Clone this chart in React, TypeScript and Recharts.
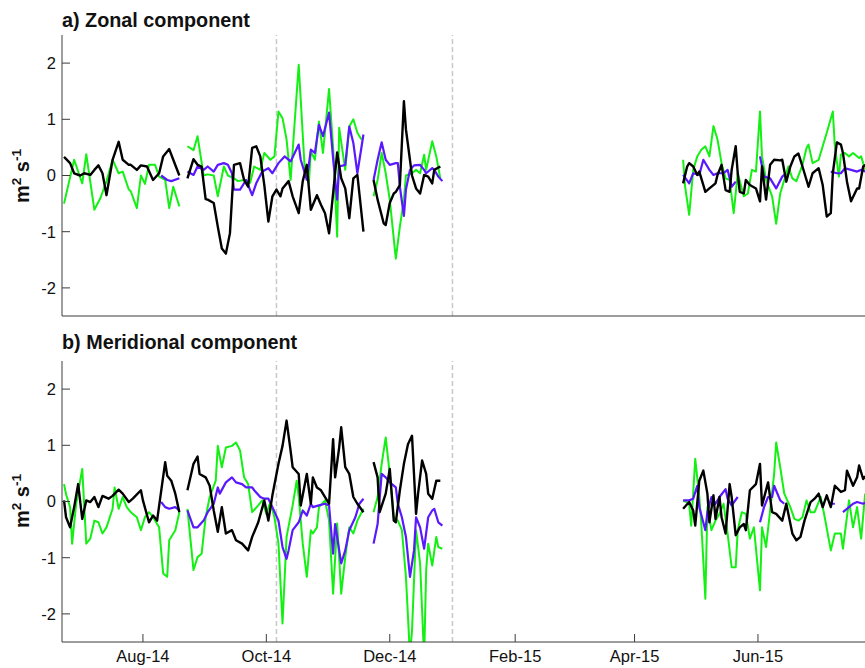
import { LineChart, Line, XAxis, YAxis, ReferenceLine } from "recharts";

type Seg = [number, number][];

const FONT = '"Liberation Sans", Arial, Helvetica, sans-serif';
const AXIS = "#3c3c3c";

// x is counted in days from 1 Aug 2014
const tickDays = [0, 61, 122, 184, 243, 304];
const tickLabels = ["Aug-14", "Oct-14", "Dec-14", "Feb-15", "Apr-15", "Jun-15"];
const dayRange: [number, number] = [-40, 357.4];
const valueRange: [number, number] = [-2.5, 2.5];
const valueTicks = [-2, -1, 0, 1, 2];
const markerDays = [66, 153];

// zonal component, one list of segments per record (gaps between segments)
const zonalGreen: Seg[] = [
  [[-39, -0.5], [-34, 0.28], [-30, -0.14], [-28, 0.38], [-24, -0.61], [-21, -0.4], [-18, -0.1], [-15, 0.28], [-12, 0.04], [-10, 0.07], [-7, -0.25], [-6, -0.28], [-3, -0.58], [-1, 0], [1, -0.15], [3, 0.19], [6, 0.19], [8, -0.02], [11, -0.08], [13, -0.58], [15, -0.2], [18, -0.55]],
  [[22, 0.52], [25, 0.45], [27, 0.7], [30, 0], [32, 0.02], [35, 0], [37, -0.37], [40, 0.16], [42, 0], [45, -0.05], [47, -0.1], [50, -0.08], [53, -0.13], [55, 0.16], [58, 0.1], [60, 0.4], [63, 0.28], [65, 0.34], [67, 1.14], [69, 1.02], [71, 0.64], [73, -0.08], [77, 1.97], [80, 0.1], [82, -0.14], [83, 0.43], [85, 0.28], [87, 0.96], [89, 0.4], [92, 1.54], [94, 0.5], [96, -1.09], [97, 0.85], [100, 0.1], [102, 0.87], [104, 1.0], [106, 0.76], [108, 0.64]],
  [[114, -0.37], [116, -0.08], [118, 0.4], [120, 0.04], [122, -0.43], [125, -1.48], [127, -0.91], [129, -0.43], [130, 0], [133, 0.04], [135, 0.1], [137, 0.04], [139, 0.37], [140, 0.1], [143, 0.61], [145, 0.34], [147, -0.05]],
  [[267, 0.28], [268, -0.2], [270, -0.7], [272, 0.1], [274, 0.34], [276, 0.46], [278, 0.52], [280, 0.34], [282, 0.88], [284, 0.64], [286, 0.22], [288, -0.05], [290, -0.08], [292, -0.67], [294, 0.04], [297, -0.37], [299, -0.32], [301, 0.1], [303, 0.07], [305, 1.14], [306, 0.34], [308, -0.08], [311, -0.37], [313, -0.86], [315, -0.32], [317, -0.08], [319, 0.16], [321, -0.05], [323, -0.1], [326, 0.19], [328, 0.49], [329, 0.55], [331, 0.22], [334, 0.28], [336, 0.52], [338, 0.76], [341, 1.14], [342, 0.52], [344, -0.02], [345, 0.37], [347, 0.4], [349, 0.34], [351, 0.4], [354, 0.31], [355, 0.34], [357, 0.1]],
];

const zonalBlue: Seg[] = [
  [[9, 0], [12, -0.08], [14, -0.1], [18, -0.05]],
  [[22, 0.07], [25, 0.01], [27, 0.16], [30, 0.1], [32, 0.16], [35, 0.07], [37, 0.19], [40, 0.22], [42, 0.19], [44, 0.04], [45, -0.25], [48, -0.25], [51, -0.08], [54, -0.35], [56, -0.14], [59, 0.07], [62, 0.13], [64, 0.04], [67, 0.22], [70, 0.34], [73, 0.25], [77, 0.55], [78, 0.28], [81, -0.08], [83, 0.46], [85, 0.4], [87, 0.9], [89, 0.7], [92, 1.12], [94, 0.31], [96, -0.43], [97, 0.16], [100, 0.19], [102, 0.87], [104, 0.58], [106, 0.04], [109, 0.73]],
  [[114, -0.08], [116, 0.28], [118, 0.59], [120, 0.28], [122, 0.19], [125, 0.22], [126, 0.22], [127, -0.2], [129, -0.72], [130, -0.25], [132, 0.1], [134, 0.18], [137, 0.19], [139, 0.1], [140, 0.04], [143, 0.13], [144, 0.1], [146, -0.02], [148, -0.1]],
  [[267, 0.01], [270, -0.14], [272, 0.04], [275, 0.01], [277, 0.28], [280, 0.1], [282, 0.01], [284, 0.04], [287, 0.04], [289, 0.1], [291, -0.2], [293, -0.11]],
  [[305, 0.34], [307, -0.02], [310, -0.05], [313, -0.23], [316, -0.02], [317, 0.01]],
  [[340, 0.07], [343, 0.04], [345, 0.04], [347, 0.13], [350, 0.1], [353, 0.07], [355, 0.1], [357, 0.07]],
];

const zonalBlack: Seg[] = [
  [[-39, 0.33], [-36, 0.22], [-34, 0.04], [-31, 0], [-29, 0.04], [-26, 0.01], [-24, 0.1], [-22, 0.18], [-20, 0.04], [-18, -0.35], [-15, 0.28], [-12, 0.6], [-10, 0.28], [-7, 0.19], [-6, 0.19], [-3, 0.1], [-1, 0.18], [2, 0.16], [5, -0.08], [8, 0.04], [10, 0.34], [13, 0.47], [15, 0.28], [18, 0]],
  [[22, -0.05], [25, 0.29], [27, 0.19], [29, 0.16], [31, -0.42], [32, -0.43], [35, -0.49], [37, -0.91], [39, -1.3], [41, -1.39], [43, -1.03], [45, 0.19], [48, 0.22], [50, -0.08], [52, -0.2], [54, 0.49], [56, 0.52], [58, 0.34], [60, -0.17], [62, -0.82], [64, -0.37], [66, -0.25], [68, -0.37], [69, -0.23], [72, -0.1], [74, -0.37], [77, -0.67], [79, -0.1], [81, 0.19], [83, -0.61], [86, -0.35], [88, -0.52], [90, -0.67], [92, -1.03], [94, -0.32], [96, 0.41], [98, -0.05], [100, -0.23], [102, -0.76], [104, -0.05], [106, 0.01], [109, -1.0]],
  [[114, -0.08], [116, -0.43], [119, -0.85], [120, -0.88], [122, -0.49], [124, -0.32], [125, -0.29], [127, -0.17], [129, 1.32], [130, 0.82], [133, 0], [135, -0.23], [137, -0.32], [139, 0.01], [141, -0.02], [143, -0.14], [144, 0.1], [147, 0.16]],
  [[267, -0.14], [269, 0.16], [270, 0.22], [272, 0.16], [274, 0.01], [275, 0.07], [278, -0.29], [280, -0.23], [283, -0.14], [284, 0.01], [286, 0.19], [288, -0.26], [290, -0.29], [291, 0.1], [293, 0.52], [294, 0.04], [295, -0.29], [297, -0.32], [298, -0.08], [300, -0.17], [303, -0.23], [305, -0.46], [306, 0.16], [308, -0.43], [310, 0.19], [312, 0.28], [315, 0.27], [316, 0.28], [318, -0.11], [320, 0.16], [322, 0.34], [324, 0.39], [326, 0.16], [329, -0.2], [331, 0.04], [334, 0.13], [336, -0.17], [338, -0.73], [340, -0.67], [341, 0.04], [343, 0.59], [345, 0.55], [346, 0.4], [348, -0.11], [350, -0.46], [353, -0.23], [354, -0.23], [356, 0.16], [357, 0.19]],
];

// meridional component
const meridGreen: Seg[] = [
  [[-39, 0.31], [-38, 0.13], [-36, -0.1], [-35, -0.75], [-33, -0.04], [-30, 0.58], [-28, -0.75], [-26, -0.66], [-24, -0.34], [-22, -0.37], [-20, -0.57], [-18, -0.46], [-15, -0.13], [-14, 0.25], [-12, -0.13], [-10, 0.08], [-8, -0.1], [-6, -0.19], [-3, -0.28], [-1, -0.51], [1, -0.28], [3, -0.19], [5, -0.28], [8, -0.46], [10, -1.28], [12, -1.34], [13, -0.69], [16, -0.51], [18, -0.19]],
  [[22, -0.13], [25, -1.22], [27, -0.99], [29, -0.93], [31, -0.28], [33, 0.08], [36, 0.37], [37, 0.99], [39, 0.61], [41, 0.96], [44, 0.99], [46, 1.05], [48, 0.91], [50, 0.43], [52, 0.31], [54, -0.19], [57, -0.07], [59, 0.02], [61, -0.22], [63, -0.01], [65, -0.28], [67, -0.75], [69, -2.17], [71, -0.63], [74, -0.07], [76, 0.37], [77, 0.08], [79, -0.75], [81, -1.34], [83, -0.51], [84, -0.57], [86, -0.46], [87, -0.1], [90, 0.02], [92, -0.34], [94, -1.64], [96, -0.39], [98, -1.64], [100, -0.99], [102, -0.46], [104, -0.57], [106, -0.34], [109, -0.13]],
  [[114, -0.19], [116, 0.08], [118, 0.67], [120, 1.14], [122, 0.49], [124, -0.28], [126, -0.34], [128, -0.51], [130, -1.34], [132, -2.75], [133, -2.3], [135, -0.51], [137, -1.1], [139, -2.8], [140, -1.22], [141, -0.75], [143, -1.14], [145, -0.63], [146, -0.81], [148, -0.84]],
  [[267, 0.02], [270, -0.04], [271, -0.43], [273, 0.76], [275, 0.08], [276, -0.4], [278, -1.73], [279, -0.1], [281, -0.51], [283, -0.34], [285, -0.22], [287, -0.04], [289, -0.57], [291, -1.17], [293, -1.17], [294, -0.51], [296, -0.19], [298, -0.22], [300, -0.66], [302, -0.46], [305, -1.58], [306, -0.46], [308, -0.81], [310, -0.16], [312, 0.49], [313, 1.05], [315, 0.61], [317, 0.14], [320, -0.1], [322, -0.31], [324, -0.34], [326, -0.28], [328, 0.02], [330, -0.19], [332, -0.19], [335, 0.08], [337, -0.28], [340, -0.87], [342, -0.57], [345, -0.57], [346, -0.84], [349, 0.02], [351, -0.46], [353, -0.1], [355, -0.66], [357, 0.14]],
];

const meridBlue: Seg[] = [
  [[9, -0.01], [11, -0.1], [13, -0.13], [16, -0.1], [18, -0.16]],
  [[22, -0.16], [25, -0.46], [27, -0.46], [30, -0.34], [32, -0.19], [35, -0.04], [37, 0.25], [38, 0.14], [41, 0.34], [44, 0.43], [46, 0.34], [49, 0.31], [51, 0.25], [54, 0.25], [55, 0.2], [58, 0.08], [60, 0.05], [62, 0.05], [64, -0.1], [67, -0.34], [69, -0.81], [71, -1.02], [72, -0.87], [74, -0.51], [77, -0.37], [79, -0.16], [81, -0.25], [83, -0.04], [84, -0.1], [87, -0.07], [90, -0.04], [92, -0.07], [94, -0.93], [95, -0.4], [98, -1.1], [100, -0.87], [102, -0.51], [105, -0.28], [107, -0.04], [109, 0.05]],
  [[114, -0.75], [116, -0.4], [118, 0.49], [120, 0.43], [122, 0.34], [125, 0.25], [126, -0.04], [128, -0.28], [130, -0.63], [132, -1.34], [134, -0.87], [135, -0.28], [137, -0.46], [139, -0.84], [141, -0.28], [143, -0.16], [144, -0.13], [146, -0.37], [148, -0.43]],
  [[267, 0.02], [270, 0.02], [272, 0.05], [274, 0.28], [275, -0.1], [278, -0.51], [279, -0.19], [281, 0.08], [283, -0.04], [285, 0.08], [288, 0.22], [289, 0.05], [291, -0.07], [294, 0.08]],
  [[305, -0.37], [307, -0.1], [309, 0.08], [311, 0.08], [312, 0.28], [315, 0.02], [317, -0.04]],
  [[340, -0.04], [342, -0.04]],
  [[346, -0.19], [349, -0.1], [351, -0.04], [353, -0.01], [356, -0.04], [357, -0.02]],
];

const meridBlack: Seg[] = [
  [[-39, 0.02], [-38, -0.28], [-36, -0.46], [-34, -0.1], [-32, 0.31], [-30, -0.31], [-28, 0.02], [-26, -0.01], [-24, 0.08], [-22, -0.1], [-20, 0.1], [-17, 0.05], [-15, 0.1], [-12, 0.21], [-10, 0.14], [-7, -0.01], [-5, 0.05], [-1, 0.2], [0, 0.02], [3, -0.37], [5, -0.25], [7, -0.34], [11, 0.7], [12, 0.46], [14, 0.37], [16, 0.14], [18, -0.19]],
  [[22, 0.2], [25, 0.67], [27, 0.8], [28, 0.49], [31, 0.43], [33, 0.28], [35, -0.16], [37, -0.54], [39, -0.1], [41, -0.57], [44, -0.51], [46, -0.69], [49, -0.75], [52, -0.87], [54, -0.63], [57, -0.37], [60, 0.02], [62, -0.34], [64, 0.11], [67, 0.67], [69, 0.99], [71, 1.44], [73, 0.9], [74, 0.61], [77, 0.49], [78, -0.07], [81, 0.49], [83, -0.04], [84, 0.43], [86, 0.25], [88, 0.2], [91, 0.02], [92, -0.04], [94, 1.11], [95, 0.43], [97, 0.96], [98, 1.32], [100, 0.61], [102, 0.49], [104, 0.08], [106, -0.04], [109, -0.19]],
  [[114, 0.7], [116, 0.43], [117, -0.19], [120, 0.14], [122, 0.58], [124, -0.34], [125, -0.37], [127, 0.2], [129, 0.67], [131, 1.02], [133, 1.17], [135, -0.22], [136, 0.14], [138, 0.73], [140, 0.49], [141, 0.14], [143, 0.05], [145, 0.37], [147, 0.37]],
  [[267, -0.13], [270, -0.01], [272, -0.16], [273, -0.43], [275, 0.37], [277, 0.55], [279, 0.14], [280, -0.37], [282, 0.11], [283, -0.31], [285, 0.08], [286, -0.28], [288, -0.57], [290, 0.31], [291, 0.08], [293, -0.6], [295, -0.46], [297, -0.4], [298, -0.51], [300, 0.2], [303, 0.31], [305, 0.67], [306, -0.07], [309, 0.34], [311, -0.19], [313, -0.22], [316, -0.34], [318, -0.04], [321, -0.57], [323, -0.69], [325, -0.63], [327, -0.34], [330, -0.01], [332, 0.05], [334, 0.14], [336, -0.1], [338, 0.11], [340, -0.1], [342, 0.28], [345, 0.17], [347, 0.2], [348, 0.55], [351, 0.28], [353, 0.43], [354, 0.64], [356, 0.4], [357, 0.45]],
];

// flatten segments, with a null point between them so the line breaks
function toPoints(segs: Seg[]) {
  const out: { day: number; v: number | null }[] = [];
  segs.forEach((seg, i) => {
    if (i > 0) out.push({ day: seg[0][0] - 0.5, v: null });
    seg.forEach(([day, v]) => out.push({ day, v }));
  });
  return out;
}

const tickStyle = { fontSize: 16.5, fill: "#111", fontFamily: FONT };

interface PanelProps {
  top: number;
  height: number;
  plotTop: number;
  green: Seg[];
  blue: Seg[];
  black: Seg[];
  showDates: boolean;
}

function Panel({ top, height, plotTop, green, blue, black, showDates }: PanelProps) {
  const plotH = 281;
  return (
    <div style={{ position: "absolute", left: 0, top }}>
      <LineChart width={870} height={height} margin={{ top: plotTop, right: 4, bottom: 0, left: 0 }}>
        <XAxis
          dataKey="day"
          type="number"
          domain={dayRange}
          ticks={tickDays}
          allowDataOverflow
          interval={0}
          height={height - plotTop - plotH}
          tickSize={-8}
          tickMargin={16}
          tick={showDates ? tickStyle : false}
          tickFormatter={(d: number) => tickLabels[tickDays.indexOf(d)]}
          axisLine={{ stroke: AXIS }}
          tickLine={{ stroke: AXIS }}
        />
        <XAxis
          xAxisId="top"
          orientation="top"
          type="number"
          domain={dayRange}
          ticks={tickDays}
          allowDataOverflow
          interval={0}
          height={0}
          tickSize={-8}
          tick={false}
          axisLine={{ stroke: AXIS }}
          tickLine={{ stroke: AXIS }}
        />
        <YAxis
          type="number"
          domain={valueRange}
          ticks={valueTicks}
          allowDataOverflow
          interval={0}
          width={62}
          tickSize={-8}
          tickMargin={14}
          tick={tickStyle}
          axisLine={{ stroke: AXIS }}
          tickLine={{ stroke: AXIS }}
        />
        <YAxis
          yAxisId="right"
          orientation="right"
          type="number"
          domain={valueRange}
          ticks={valueTicks}
          allowDataOverflow
          interval={0}
          width={0}
          tickSize={-8}
          tick={false}
          axisLine={{ stroke: AXIS }}
          tickLine={{ stroke: AXIS }}
        />
        {markerDays.map((d) => (
          <ReferenceLine key={d} x={d} stroke="#c8c8c8" strokeWidth={1.5} strokeDasharray="5 3" />
        ))}
        <Line data={toPoints(green)} dataKey="v" type="linear" stroke="#14f014" strokeWidth={2}
          dot={false} activeDot={false} strokeLinejoin="round" connectNulls={false} isAnimationActive={false} />
        <Line data={toPoints(blue)} dataKey="v" type="linear" stroke="#5a18ff" strokeWidth={2.2}
          dot={false} activeDot={false} strokeLinejoin="round" connectNulls={false} isAnimationActive={false} />
        <Line data={toPoints(black)} dataKey="v" type="linear" stroke="#000" strokeWidth={2.4}
          dot={false} activeDot={false} strokeLinejoin="round" connectNulls={false} isAnimationActive={false} />
      </LineChart>
    </div>
  );
}

function UnitLabel({ centerY }: { centerY: number }) {
  return (
    <div
      style={{
        position: "absolute",
        left: 22 - 60,
        top: centerY - 10,
        width: 120,
        height: 20,
        lineHeight: "20px",
        fontSize: 20,
        fontWeight: "bold",
        fontFamily: FONT,
        textAlign: "center",
        transform: "rotate(-90deg)",
        whiteSpace: "nowrap",
      }}
    >
      m<sup style={{ fontSize: "0.68em", lineHeight: 0 }}>2</sup> s<sup style={{ fontSize: "0.68em", lineHeight: 0 }}>-1</sup>
    </div>
  );
}

function Title({ text, top }: { text: string; top: number }) {
  return (
    <div
      style={{
        position: "absolute",
        left: 62,
        top,
        lineHeight: "20px",
        fontSize: 19.8,
        fontWeight: "bold",
        fontFamily: FONT,
        whiteSpace: "nowrap",
      }}
    >
      {text}
    </div>
  );
}

export default function App() {
  return (
    <div
      style={{
        position: "fixed",
        left: 0,
        top: 0,
        width: 865,
        height: 668,
        overflow: "hidden",
        background: "#fff",
        color: "#111",
      }}
    >
      <Panel top={0} height={330} plotTop={35} green={zonalGreen} blue={zonalBlue} black={zonalBlack} showDates={false} />
      <Panel top={330} height={338} plotTop={31} green={meridGreen} blue={meridBlue} black={meridBlack} showDates={true} />
      <Title text="a) Zonal component" top={10} />
      <Title text="b) Meridional component" top={332} />
      <UnitLabel centerY={176} />
      <UnitLabel centerY={501} />
    </div>
  );
}
